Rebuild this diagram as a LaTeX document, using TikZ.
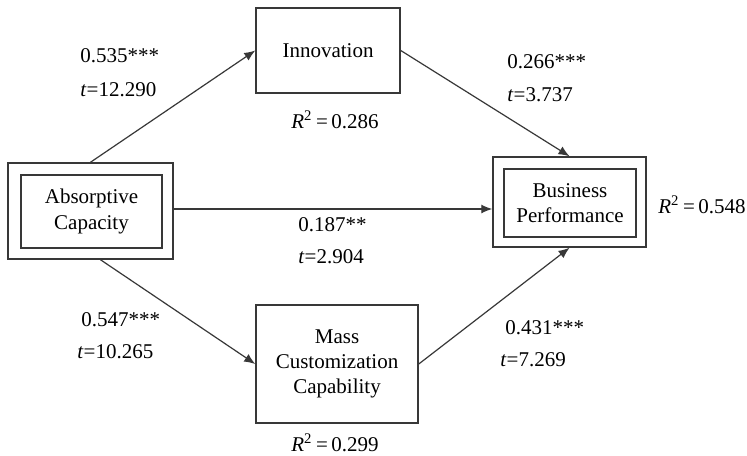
\documentclass[tikz,border=0pt]{standalone}
\usepackage{fontspec}
\setmainfont{Liberation Serif}
\usepackage{xcolor}
\usetikzlibrary{arrows.meta}

\begin{document}
\begin{tikzpicture}[
    x=0.5pt, y=-0.5pt,
    box/.style={rectangle, draw=black!78, line width=0.75pt, align=center, inner sep=0pt, font=\fontsize{10.5}{12.6}\selectfont},
    frame/.style={rectangle, draw=black!78, line width=0.75pt, inner sep=0pt},
    coef/.style={anchor=west, inner sep=0pt, font=\fontsize{10.5}{12.6}\selectfont},
    rsq/.style={inner sep=0pt, font=\fontsize{10.5}{12.6}\selectfont},
    arrow/.style={-{Latex[length=5.5pt, width=4.5pt]}, line width=0.6pt, draw=black!78}
]
    \useasboundingbox[fill=white] (0,0) rectangle (747,455);

    % Nodes
    \node[frame, minimum width=82.5pt, minimum height=48pt] (absorptiveFrame) at (90.5,211) {};
    \node[box, minimum width=70.5pt, minimum height=36.5pt] (absorptive) at (91.5,211.5) {Absorptive\\Capacity};
    \node[box, minimum width=72pt, minimum height=42.5pt] (innovation) at (328,50.5) {Innovation};
    \node[box, minimum width=81pt, minimum height=59pt] (mass) at (337,364) {Mass\\Customization\\Capability};
    \node[frame, minimum width=76.5pt, minimum height=45pt] (businessFrame) at (569.5,202) {};
    \node[box, minimum width=66pt, minimum height=34pt] (business) at (570,203) {Business\\Performance};

    % Coefficients
    \node[coef] (betaAI) at (80,56) {0.535***};
    \node[coef] (tAI) at (80,90) {\textit{t}=12.290};
    \node[coef] (betaIB) at (507,62) {0.266***};
    \node[coef] (tIB) at (507,95) {\textit{t}=3.737};
    \node[coef] (betaAB) at (298,225) {0.187**};
    \node[coef] (tAB) at (298,257) {\textit{t}=2.904};
    \node[coef] (betaAM) at (81,320) {0.547***};
    \node[coef] (tAM) at (77,352) {\textit{t}=10.265};
    \node[coef] (betaMB) at (505,328) {0.431***};
    \node[coef] (tMB) at (500,360) {\textit{t}=7.269};

    % R squared
    \node[rsq] (rsqInnovation) at (335,120) {\textit{R}\textsuperscript{2}\,=\,0.286};
    \node[rsq] (rsqMass) at (335,443) {\textit{R}\textsuperscript{2}\,=\,0.299};
    \node[rsq, anchor=west] (rsqBusiness) at (658,205) {\textit{R}\textsuperscript{2}\,=\,0.548};

    % Arrows
    \draw[arrow] (absorptiveFrame.north) -- (innovation.west);
    \draw[arrow] (innovation.east) -- (businessFrame.north);
    \draw[arrow] ([yshift=1pt]absorptiveFrame.east) -- ([yshift=1pt]absorptiveFrame.east -| businessFrame.west);
    \draw[arrow] ([xshift=5pt]absorptiveFrame.south) -- (mass.west);
    \draw[arrow] (mass.east) -- (businessFrame.south);
\end{tikzpicture}
\end{document}
